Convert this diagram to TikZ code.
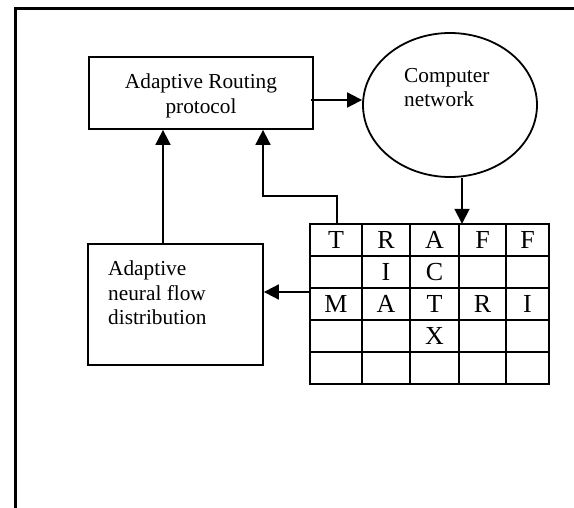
\documentclass[tikz,border=0pt]{standalone}
\usepackage{fontspec}
\setmainfont{Liberation Serif}
\usetikzlibrary{arrows.meta,shapes.geometric}
\begin{document}
\begin{tikzpicture}[x=1pt,y=-1pt,
  box/.style={draw,line width=1.8pt,inner sep=0pt},
  arr/.style={line width=1.8pt,-{Triangle[length=15pt,width=15pt]}},
  txt/.style={font=\fontsize{21.3}{24.5}\selectfont,inner sep=0pt},
  tabline/.style={line width=2.4pt},
  cell/.style={font=\fontsize{26}{28}\selectfont,inner sep=0pt}]
\useasboundingbox (0,0) rectangle (574,508);
% frame
\draw[line width=3pt] (574,9) -- (15,9) -- (15,508);
% top box
\node[box,minimum width=224pt,minimum height=72pt] (top) at (201,93) {};
\node[txt,align=center] (toptext) at (201,96) {Adaptive Routing\\protocol};
% ellipse
\node[draw,ellipse,line width=1.8pt,minimum width=174pt,minimum height=144pt,inner sep=0pt] (net) at (450,105) {};
\node[txt,align=left,anchor=north west] (nettext) at (404,68) {Computer\\network};
% left box
\node[box,minimum width=175pt,minimum height=121pt] (lbox) at (175.5,304.5) {};
\node[txt,align=left,anchor=north west] (ltext) at (108,261) {Adaptive\\neural flow\\distribution};
% table
\node[minimum width=239pt,minimum height=160pt,inner sep=0pt] (tab) at (429.5,304) {};
\foreach \x in {310,362,410,459,506,549} \draw[tabline] (\x,222.8) -- (\x,385.2);
\foreach \y in {224,256,288,320,352,384} \draw[tabline] (308.8,\y) -- (550.2,\y);
\foreach \c/\x in {1/336,2/386,3/434.5,4/482.5,5/527.5} {
  \foreach \r/\y in {1/240,2/272,3/304,4/336,5/368} {
    \coordinate (c\r\c) at (\x,\y);
  }
}
\node[cell] (t11) at (c11) {T};
\node[cell] (t12) at (c12) {R};
\node[cell] (t13) at (c13) {A};
\node[cell] (t14) at (c14) {F};
\node[cell] (t15) at (c15) {F};
\node[cell] (t22) at (c22) {I};
\node[cell] (t23) at (c23) {C};
\node[cell] (t31) at (c31) {M};
\node[cell] (t32) at (c32) {A};
\node[cell] (t33) at (c33) {T};
\node[cell] (t34) at (c34) {R};
\node[cell] (t35) at (c35) {I};
\node[cell] (t43) at (c43) {X};
% connectors
\coordinate (a1s) at (311,100);
\draw[arr] (a1s) -- (a1s -| net.west);
\draw[arr] (net.south -| 462,0) -- (tab.north -| 462,0);
\draw[arr] (tab.west |- 0,292) -- (lbox.east |- 0,292);
\draw[arr] (lbox.north -| 163,0) -- (top.south -| 163,0);
\coordinate (bend) at (337,196);
\draw[arr] (tab.north -| bend) -- (bend) -- (bend -| 263,0) -- (top.south -| 263,0);
\end{tikzpicture}
\end{document}
